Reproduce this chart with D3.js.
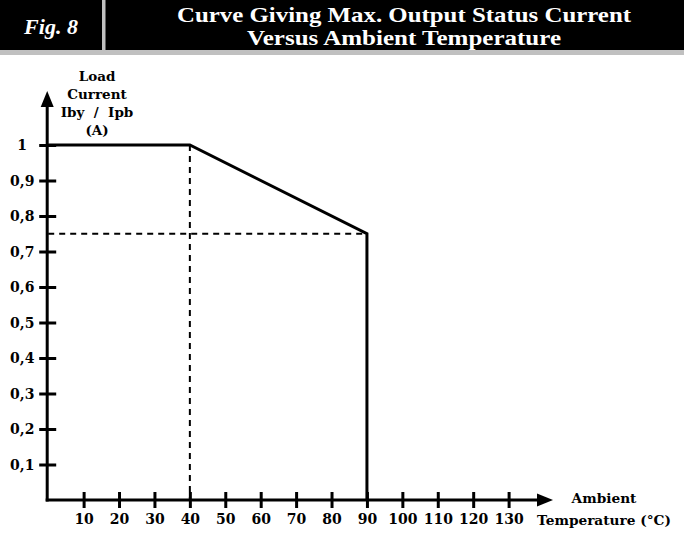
<!DOCTYPE html>
<html><head><meta charset="utf-8">
<script src="https://cdn.jsdelivr.net/npm/d3@7"></script>
<style>body{margin:0;background:#fff}svg{display:block}</style>
</head><body>
<script>
const curveTemp = [0, 40, 90, 90];
const curveCurrent = [1, 1, 0.75, 0];
const xTicks = [10,20,30,40,50,60,70,80,90,100,110,120,130];
const yTicks = [0.1,0.2,0.3,0.4,0.5,0.6,0.7,0.8,0.9,1];
const yTickLabels = ["0,1","0,2","0,3","0,4","0,5","0,6","0,7","0,8","0,9","1"];
const kneeTemp = 40, kneeCurrent = 1;
const endTemp = 90, endCurrent = 0.75;
const titleLines = ["Curve Giving Max. Output Status Current","Versus Ambient Temperature"];
const figLabel = "Fig. 8";
const yTitle = ["Load","Current","Iby  /  Ipb","(A)"];
const xTitle = ["Ambient","Temperature (°C)"];

const W=684,H=539;
const svg=d3.select("body").append("svg").attr("width",W).attr("height",H);
const x=d3.scaleLinear().domain([0,130]).range([48.2,508.6]);
const y=d3.scaleLinear().domain([0,1]).range([500,145]);
const serif="'DejaVu Serif', serif";

// header
svg.append("rect").attr("x",0).attr("y",0).attr("width",W).attr("height",50).attr("fill","#000");
svg.append("rect").attr("x",0).attr("y",50).attr("width",W).attr("height",5).attr("fill","#c0c0c0");
svg.append("rect").attr("x",102).attr("y",0).attr("width",3.5).attr("height",50).attr("fill","#c0c0c0");
svg.append("text").attr("x",51).attr("y",34).attr("text-anchor","middle")
  .attr("font-family","'Liberation Serif', serif").attr("font-weight","bold").attr("font-style","italic")
  .attr("font-size",22).attr("fill","#fff").text(figLabel);
const tw=[454,314];
titleLines.forEach((t,i)=>{
  svg.append("text").attr("x",404).attr("y",22+i*22.5).attr("text-anchor","middle")
    .attr("font-family","'Liberation Serif', serif").attr("font-weight","bold")
    .attr("font-size",21).attr("fill","#fff")
    .attr("textLength",tw[i]).attr("lengthAdjust","spacingAndGlyphs").text(t);
});

const g=svg.append("g");
// dashed guides
g.append("line").attr("x1",x(kneeTemp)).attr("x2",x(kneeTemp)).attr("y1",y(kneeCurrent)).attr("y2",y(0))
  .attr("stroke","#000").attr("stroke-width",2).attr("stroke-dasharray","6,5");
g.append("line").attr("x1",x(0)).attr("x2",x(endTemp)).attr("y1",y(endCurrent)).attr("y2",y(endCurrent))
  .attr("stroke","#000").attr("stroke-width",2).attr("stroke-dasharray","6,5");

// axes via d3 axis
const xAxis=d3.axisBottom(x).tickValues(xTicks).tickSize(0).tickPadding(14).tickFormat(d3.format("d"));
const gx=g.append("g").attr("transform",`translate(0,${y(0)})`).call(xAxis);
gx.select(".domain").remove();
gx.selectAll("text").attr("font-family",serif).attr("font-weight","bold").attr("font-size",14).attr("fill","#000");
gx.selectAll(".tick").append("line").attr("y1",-8).attr("y2",8).attr("stroke","#000").attr("stroke-width",3);

const yAxis=d3.axisLeft(y).tickValues(yTicks).tickSize(0).tickPadding(0).tickFormat((d,i)=>yTickLabels[i]);
const gy=g.append("g").attr("transform",`translate(${x(0)-1},0)`).call(yAxis);
gy.select(".domain").remove();
gy.selectAll("text").attr("text-anchor","middle").attr("x",-25).attr("dy","0.35em")
  .attr("font-family",serif).attr("font-weight","bold").attr("font-size",14).attr("fill","#000");
gy.selectAll(".tick").append("line").attr("x1",-8).attr("x2",9).attr("stroke","#000").attr("stroke-width",3);

// axis lines with arrows
const ax0=x(0)-1;
g.append("line").attr("x1",ax0).attr("x2",ax0).attr("y1",y(0)+1.5).attr("y2",104).attr("stroke","#000").attr("stroke-width",3);
g.append("path").attr("d",`M${ax0},91 L${ax0-6.5},107 L${ax0+6.5},107 Z`).attr("fill","#000");
g.append("line").attr("x1",ax0-1.5).attr("x2",540).attr("y1",y(0)).attr("y2",y(0)).attr("stroke","#000").attr("stroke-width",3);
g.append("path").attr("d",`M553,${y(0)} L537,${y(0)-6.5} L537,${y(0)+6.5} Z`).attr("fill","#000");

// curve
const line=d3.line().x(d=>x(d[0])).y(d=>y(d[1]));
g.append("path").datum(curveTemp.map((t,i)=>[t,curveCurrent[i]]))
  .attr("d",line).attr("fill","none").attr("stroke","#000").attr("stroke-width",3).attr("stroke-linejoin","miter");

// titles
yTitle.forEach((t,i)=>{
  svg.append("text").attr("x",97).attr("y",81+i*18).attr("text-anchor","middle")
    .attr("font-family",serif).attr("font-weight","bold").attr("font-size",13.5).attr("fill","#000")
    .attr("xml:space","preserve").style("white-space","pre").text(t);
});
svg.append("text").attr("x",604).attr("y",503).attr("text-anchor","middle")
  .attr("font-family",serif).attr("font-weight","bold").attr("font-size",13.7).attr("fill","#000").text(xTitle[0]);
svg.append("text").attr("x",604).attr("y",525).attr("text-anchor","middle")
  .attr("font-family",serif).attr("font-weight","bold").attr("font-size",13.7).attr("fill","#000").text(xTitle[1]);
</script>
</body></html>
